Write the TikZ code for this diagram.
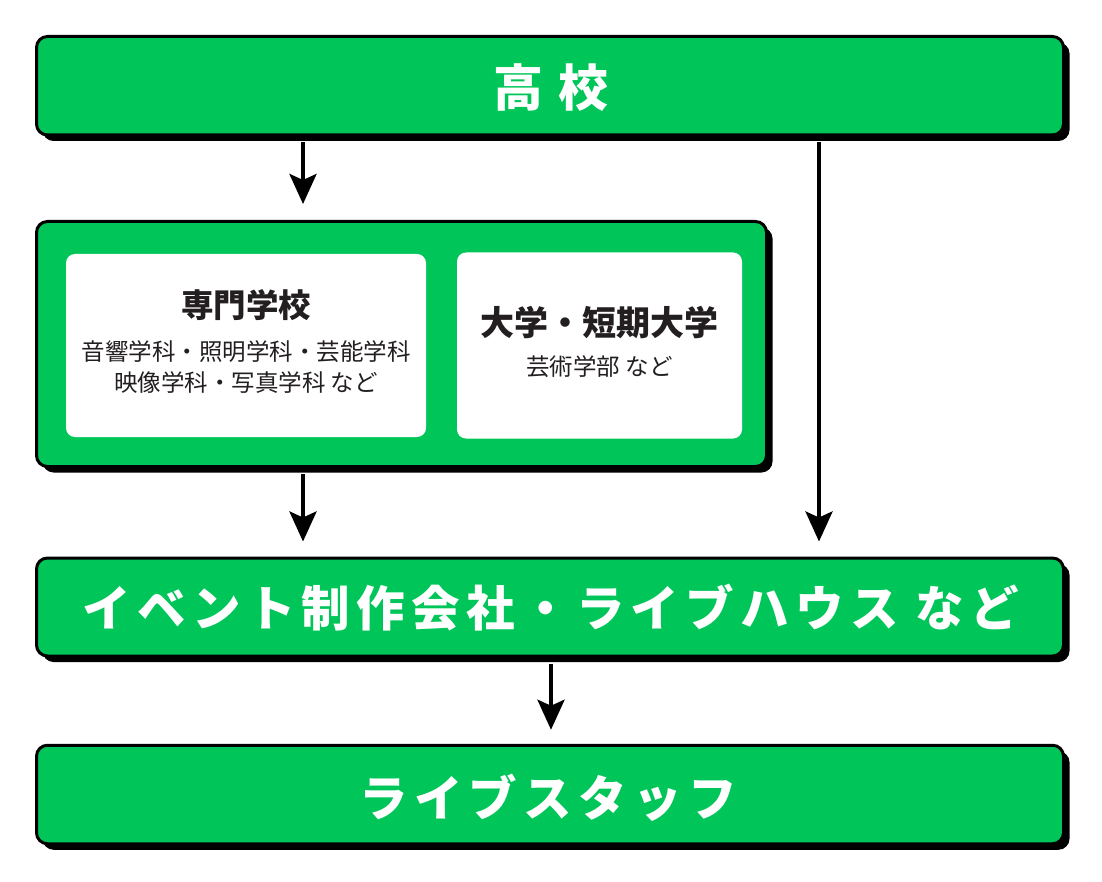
\documentclass[tikz,border=0pt]{standalone}
\usepackage{fontspec}
\setmainfont{Noto Sans CJK JP}
\usetikzlibrary{arrows.meta,shadows,calc}
\definecolor{boxgreen}{RGB}{0,198,90}
\definecolor{inktext}{RGB}{35,31,32}
\begin{document}
\begin{tikzpicture}[x=1pt,y=-1pt,
  greenbox/.style={draw=black,line width=3pt,fill=boxgreen,rounded corners=11pt,
    drop shadow={shadow xshift=6pt,shadow yshift=-6pt,opacity=1,fill=black},
    inner sep=0pt,anchor=center},
  whitebox/.style={fill=white,rounded corners=9pt,inner sep=0pt,anchor=center},
  bigtext/.style={text=white,font=\fontsize{48.5}{56}\selectfont\bfseries\addfontfeatures{LetterSpace=13}},
  headtext/.style={text=inktext,font=\fontsize{32.5}{38}\selectfont\bfseries},
  smalltext/.style={text=inktext,font=\fontsize{23.5}{31}\selectfont,align=center},
  arr/.style={line width=4pt,-{Stealth[length=30pt,width=27pt,inset=6pt]}}]
\useasboundingbox (0,0) rectangle (1102,882);

\node[greenbox,minimum width=1027pt,minimum height=98.5pt] (top) at (550,85.75) {};
\node[greenbox,minimum width=730pt,minimum height=245pt] (mid) at (401.5,344) {};
\node[greenbox,minimum width=1027pt,minimum height=98pt] (event) at (550,607) {};
\node[greenbox,minimum width=1027pt,minimum height=98.5pt] (bottom) at (550,794.5) {};

\node[whitebox,minimum width=360pt,minimum height=183pt] (w1) at (246,345.5) {};
\node[whitebox,minimum width=285pt,minimum height=186pt] (w2) at (599.5,345.5) {};

\node[text=white,font=\fontsize{50}{56}\selectfont\bfseries] (ttop) at (551,88) {高\hspace{15pt}校};
\node[bigtext] (tevent) at (551,607.5) {イベント制作会社・ライブハウス など};
\node[bigtext] (tbottom) at (548,797.5) {ライブスタッフ};

\node[headtext] (h1) at (246,305) {専門学校};
\node[smalltext] (s1) at (246,367.5) {音響学科・照明学科・芸能学科\\映像学科・写真学科 など};
\node[headtext,font=\fontsize{34}{38}\selectfont\bfseries] (h2) at (599.5,323) {大学・短期大学};
\node[smalltext] (s2) at (599.5,367) {芸術学部 など};

\coordinate (xa) at (303,0);
\coordinate (xb) at (819,0);
\coordinate (xc) at (551,0);
\draw[arr] ([yshift=-6pt]top.south -| xa) -- ([yshift=16pt]mid.north -| xa);
\draw[arr] ([yshift=-6pt]mid.south -| xa) -- ([yshift=15pt]event.north -| xa);
\draw[arr] ([yshift=-6pt]top.south -| xb) -- ([yshift=15pt]event.north -| xb);
\draw[arr] ([yshift=-6pt]event.south -| xc) -- ([yshift=14pt]bottom.north -| xc);
\end{tikzpicture}
\end{document}
